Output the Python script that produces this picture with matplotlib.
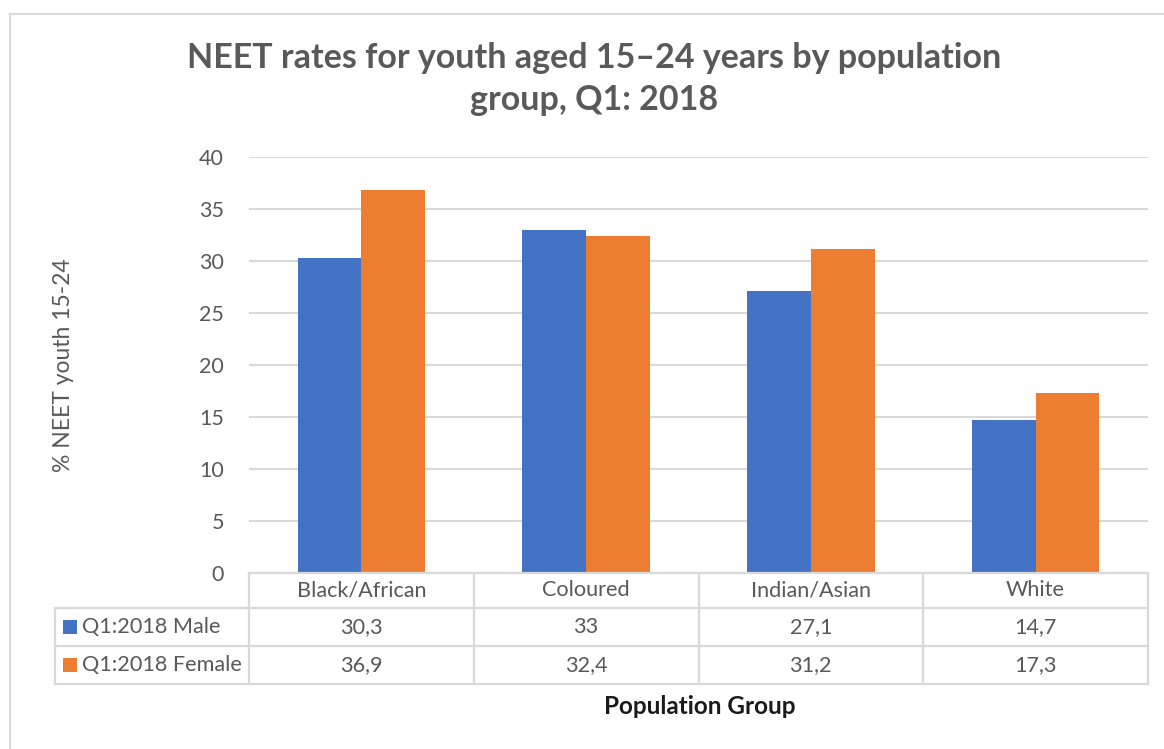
"""NEET rates for youth aged 15-24 by population group, Q1 2018, with a data table."""

import matplotlib

matplotlib.use("Agg")
import matplotlib.pyplot as plt
from matplotlib.lines import Line2D
from matplotlib.patches import Rectangle

groups = ["Black/African", "Coloured", "Indian/Asian", "White"]
series_names = ["Q1:2018 Male", "Q1:2018 Female"]
male = [30.3, 33.0, 27.1, 14.7]
female = [36.9, 32.4, 31.2, 17.3]
male_labels = ["30,3", "33", "27,1", "14,7"]
female_labels = ["36,9", "32,4", "31,2", "17,3"]
y_ticks = [0, 5, 10, 15, 20, 25, 30, 35, 40]

BLUE = "#4472C4"
ORANGE = "#ED7D31"
GRID = "#D9D9D9"
TEXT = "#595959"

plt.rcParams["font.family"] = ["Lato", "DejaVu Sans"]

W, H = 1164, 749
fig = plt.figure(figsize=(W / 100, H / 100), dpi=100)


def fx(px):
    return px / W


def fy(py):
    return 1 - py / H


# plot area in pixel terms
left, right, top, bottom = 249, 1148, 157.3, 573.3
ax = fig.add_axes([fx(left), fy(bottom), fx(right - left), fy(top) - fy(bottom)])

bar_w = 0.284
xs = range(len(groups))
ax.bar([x - bar_w / 2 for x in xs], male, width=bar_w, color=BLUE, zorder=3)
ax.bar([x + bar_w / 2 for x in xs], female, width=bar_w, color=ORANGE, zorder=3)

ax.set_xlim(-0.5, len(groups) - 0.5)
ax.set_ylim(0, 40)
ax.set_yticks(y_ticks)
ax.set_yticklabels([str(t) for t in y_ticks], fontsize=15.5, color=TEXT)
ax.set_xticks([])
ax.tick_params(axis="y", length=0, pad=18)
ax.grid(axis="y", color=GRID, linewidth=1.5, zorder=0)
for side in ax.spines.values():
    side.set_visible(False)

ax.set_ylabel("% NEET youth 15-24", fontsize=16.5, color=TEXT)
ax.yaxis.set_label_coords(fx(74 - left) / fx(right - left), 0.5)

# data table below the plot area
row_edges = [573, 608, 646, 684]
col_w = (right - left) / len(groups)
col_edges = [left + i * col_w for i in range(len(groups) + 1)]
legend_left = 55


def hline(y, x0, x1):
    fig.add_artist(Line2D([fx(x0), fx(x1)], [fy(y), fy(y)], color=GRID, lw=1.6))


def vline(x, y0, y1):
    fig.add_artist(Line2D([fx(x), fx(x)], [fy(y0), fy(y1)], color=GRID, lw=1.6))


hline(row_edges[0], left, right)
for y in row_edges[1:]:
    hline(y, legend_left, right)
for x in col_edges:
    vline(x, row_edges[0], row_edges[-1])
vline(legend_left, row_edges[1], row_edges[-1])

row_mid = [(row_edges[i] + row_edges[i + 1]) / 2 for i in range(3)]
for i, name in enumerate(groups):
    cx = (col_edges[i] + col_edges[i + 1]) / 2
    fig.text(fx(cx), fy(row_mid[0]), name, ha="center", va="center", fontsize=15.6, color=TEXT)
    fig.text(fx(cx), fy(row_mid[1]), male_labels[i], ha="center", va="center", fontsize=15.6, color=TEXT)
    fig.text(fx(cx), fy(row_mid[2]), female_labels[i], ha="center", va="center", fontsize=15.6, color=TEXT)

for name, colour, ym in zip(series_names, [BLUE, ORANGE], row_mid[1:]):
    fig.add_artist(Rectangle((fx(63), fy(ym + 7)), fx(14), fy(ym - 7) - fy(ym + 7),
                             facecolor=colour, edgecolor="none"))
    fig.text(fx(82), fy(ym), name, ha="left", va="center", fontsize=15.6, color=TEXT)

fig.text(fx(594), fy(58), "NEET rates for youth aged 15\u201324 years by population",
         ha="center", va="center", fontsize=24.5, fontweight="bold", color=TEXT)
fig.text(fx(594), fy(100), "group, Q1: 2018",
         ha="center", va="center", fontsize=24.5, fontweight="bold", color=TEXT)
fig.text(fx(700), fy(707), "Population Group", ha="center", va="center",
         fontsize=17.5, fontweight="bold", color="#1A1A1A")

# chart frame: top and left edges
fig.add_artist(Line2D([fx(10), 1], [fy(13.5), fy(13.5)], color=GRID, lw=1.5))
fig.add_artist(Line2D([fx(10), fx(10)], [fy(13.5), 0], color=GRID, lw=1.5))

fig.savefig("out.png", dpi=100)
